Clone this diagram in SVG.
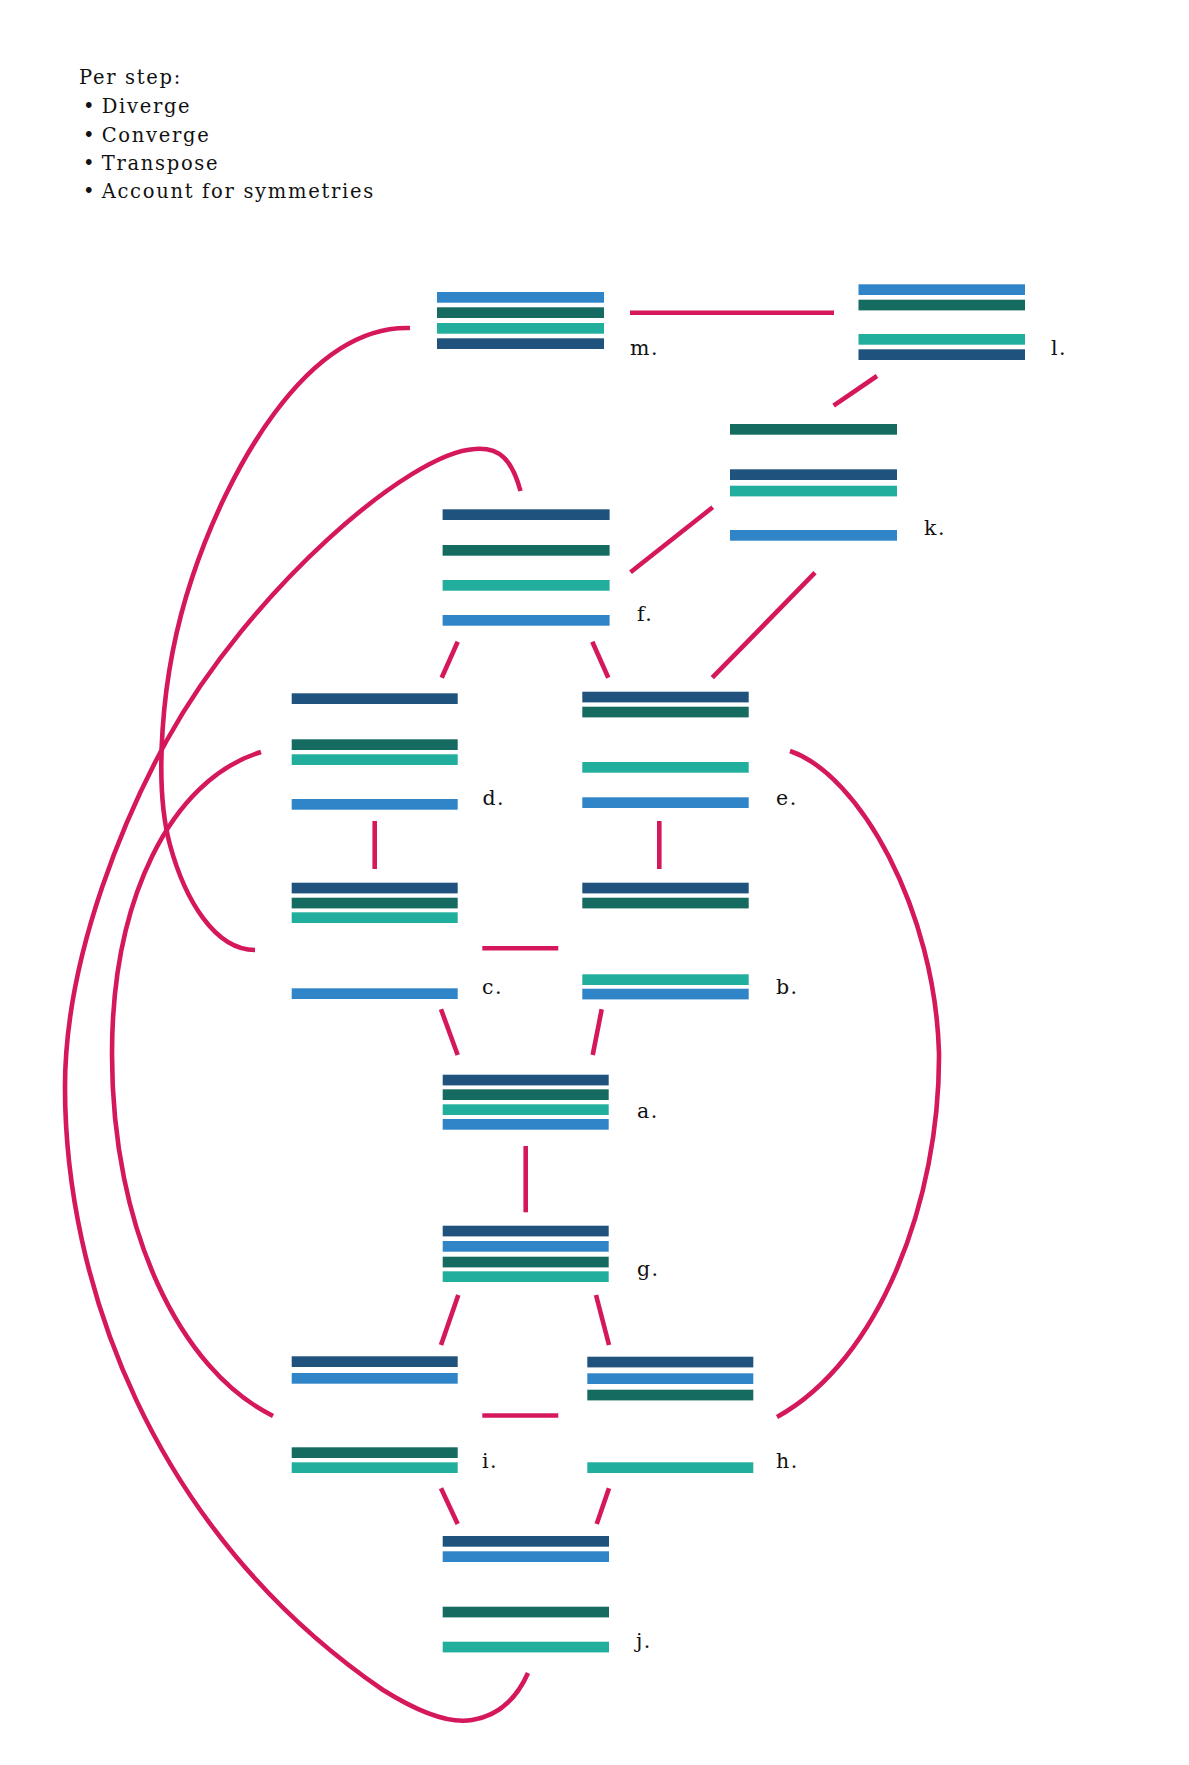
<svg xmlns="http://www.w3.org/2000/svg" width="1189" height="1765" viewBox="0 0 1189 1765">
<style>
  .nv{fill:#1F537D}
  .dg{fill:#156B5F}
  .tl{fill:#21AE9C}
  .bl{fill:#3085C8}
  .lbl{font-family:"DejaVu Serif","Liberation Serif",serif;font-size:20.5px;letter-spacing:1.5px;fill:#111}
  .hdr{font-family:"DejaVu Serif","Liberation Serif",serif;font-size:19.5px;letter-spacing:1.7px;fill:#111}
  .cn{stroke:#D5175C;stroke-width:4.6;fill:none}
</style>
<rect width="1189" height="1765" fill="#fff"/>
<g id="header">
  <text class="hdr" x="79" y="83.5">Per step:</text>
  <text class="hdr" x="83" y="113.3">•</text><text class="hdr" x="101.7" y="113.3">Diverge</text>
  <text class="hdr" x="83" y="141.7">•</text><text class="hdr" x="101.7" y="141.7">Converge</text>
  <text class="hdr" x="83" y="170">•</text><text class="hdr" x="101.7" y="170">Transpose</text>
  <text class="hdr" x="83" y="198.3">•</text><text class="hdr" x="101.7" y="198.3">Account for symmetries</text>
</g>
<g id="connectors">
  <line class="cn" x1="630" y1="312.7" x2="834" y2="312.7"/>
  <line class="cn" x1="877" y1="376" x2="833.6" y2="405.7"/>
  <line class="cn" x1="630.5" y1="572.3" x2="712.7" y2="507.3"/>
  <line class="cn" x1="815" y1="572.7" x2="712.3" y2="677.7"/>
  <line class="cn" x1="457.7" y1="641.7" x2="441.7" y2="677.7"/>
  <line class="cn" x1="592.3" y1="641.7" x2="608.3" y2="677.7"/>
  <line class="cn" x1="374.7" y1="821" x2="374.7" y2="869"/>
  <line class="cn" x1="659.3" y1="821" x2="659.3" y2="869"/>
  <line class="cn" x1="482.3" y1="948.3" x2="558.3" y2="948.3"/>
  <line class="cn" x1="441" y1="1009.3" x2="457.7" y2="1055"/>
  <line class="cn" x1="601.7" y1="1009.3" x2="592.7" y2="1055"/>
  <line class="cn" x1="525.7" y1="1146" x2="525.7" y2="1212.3"/>
  <line class="cn" x1="458.3" y1="1295" x2="441" y2="1345"/>
  <line class="cn" x1="596" y1="1295" x2="609" y2="1345"/>
  <line class="cn" x1="482.3" y1="1415.5" x2="558.3" y2="1415.5"/>
  <line class="cn" x1="441" y1="1488.3" x2="457.7" y2="1524"/>
  <line class="cn" x1="609" y1="1488.3" x2="596.7" y2="1524"/>
  <path class="cn" d="M410,328 C305,325 226,475 192,578 C158,680 155,790 170,845 C185,900 215,950 255,950"/>
  <path class="cn" d="M520.5,491 C512,460 500,447 475,449 C410,452 250,590 167,740 C130,807 65,950 65,1087 C65,1280 150,1530 383,1690 C428,1718 455,1723 472,1720 C497,1716 516,1700 528,1673"/>
  <path class="cn" d="M261,752 C170,780 112,900 112,1054 C112,1230 180,1370 273,1416"/>
  <path class="cn" d="M790,751 C860,775 935,910 939,1053 C940,1200 880,1360 777,1417"/>
</g>
<g id="node-m">
  <rect class="bl" x="437" y="292" width="167" height="10.7"/>
  <rect class="dg" x="437" y="307.3" width="167" height="10.7"/>
  <rect class="tl" x="437" y="323" width="167" height="10.7"/>
  <rect class="nv" x="437" y="338.3" width="167" height="10.7"/>
  <text class="lbl" x="630" y="355">m.</text>
</g>
<g id="node-l">
  <rect class="bl" x="858.5" y="284.3" width="166.5" height="10.7"/>
  <rect class="dg" x="858.5" y="299.7" width="166.5" height="10.7"/>
  <rect class="tl" x="858.5" y="334" width="166.5" height="10.7"/>
  <rect class="nv" x="858.5" y="349.3" width="166.5" height="10.7"/>
  <text class="lbl" x="1051" y="355">l.</text>
</g>
<g id="node-k">
  <rect class="dg" x="730" y="424" width="167" height="10.7"/>
  <rect class="nv" x="730" y="469.3" width="167" height="10.7"/>
  <rect class="tl" x="730" y="485.7" width="167" height="10.7"/>
  <rect class="bl" x="730" y="530" width="167" height="10.7"/>
  <text class="lbl" x="924" y="535">k.</text>
</g>
<g id="node-f">
  <rect class="nv" x="442.6" y="509.3" width="167" height="10.7"/>
  <rect class="dg" x="442.6" y="545" width="167" height="10.7"/>
  <rect class="tl" x="442.6" y="580" width="167" height="10.7"/>
  <rect class="bl" x="442.6" y="615" width="167" height="10.7"/>
  <text class="lbl" x="637" y="620.7">f.</text>
</g>
<g id="node-d">
  <rect class="nv" x="291.7" y="693.3" width="166" height="10.7"/>
  <rect class="dg" x="291.7" y="739.3" width="166" height="10.7"/>
  <rect class="tl" x="291.7" y="754.3" width="166" height="10.7"/>
  <rect class="bl" x="291.7" y="799" width="166" height="10.7"/>
  <text class="lbl" x="482.5" y="805">d.</text>
</g>
<g id="node-e">
  <rect class="nv" x="582.3" y="691.7" width="166.4" height="10.7"/>
  <rect class="dg" x="582.3" y="706.7" width="166.4" height="10.7"/>
  <rect class="tl" x="582.3" y="762" width="166.4" height="10.7"/>
  <rect class="bl" x="582.3" y="797.3" width="166.4" height="10.7"/>
  <text class="lbl" x="776" y="805">e.</text>
</g>
<g id="node-c">
  <rect class="nv" x="291.7" y="882.7" width="166" height="10.7"/>
  <rect class="dg" x="291.7" y="897.7" width="166" height="10.7"/>
  <rect class="tl" x="291.7" y="912.3" width="166" height="10.7"/>
  <rect class="bl" x="291.7" y="988.3" width="166" height="10.7"/>
  <text class="lbl" x="482" y="994">c.</text>
</g>
<g id="node-b">
  <rect class="nv" x="582.3" y="882.7" width="166.4" height="10.7"/>
  <rect class="dg" x="582.3" y="897.7" width="166.4" height="10.7"/>
  <rect class="tl" x="582.3" y="974.3" width="166.4" height="10.7"/>
  <rect class="bl" x="582.3" y="988.7" width="166.4" height="10.7"/>
  <text class="lbl" x="776" y="994">b.</text>
</g>
<g id="node-a">
  <rect class="nv" x="442.7" y="1074.7" width="166" height="10.7"/>
  <rect class="dg" x="442.7" y="1089.3" width="166" height="10.7"/>
  <rect class="tl" x="442.7" y="1104.3" width="166" height="10.7"/>
  <rect class="bl" x="442.7" y="1119" width="166" height="10.7"/>
  <text class="lbl" x="637" y="1118.3">a.</text>
</g>
<g id="node-g">
  <rect class="nv" x="442.7" y="1225.7" width="166" height="10.7"/>
  <rect class="bl" x="442.7" y="1241" width="166" height="10.7"/>
  <rect class="dg" x="442.7" y="1256.7" width="166" height="10.7"/>
  <rect class="tl" x="442.7" y="1271.3" width="166" height="10.7"/>
  <text class="lbl" x="637" y="1276">g.</text>
</g>
<g id="node-i">
  <rect class="nv" x="291.7" y="1356.3" width="166" height="10.7"/>
  <rect class="bl" x="291.7" y="1373" width="166" height="10.7"/>
  <rect class="dg" x="291.7" y="1447.3" width="166" height="10.7"/>
  <rect class="tl" x="291.7" y="1462.3" width="166" height="10.7"/>
  <text class="lbl" x="482" y="1468.3">i.</text>
</g>
<g id="node-h">
  <rect class="nv" x="587.3" y="1356.7" width="166" height="10.7"/>
  <rect class="bl" x="587.3" y="1373.3" width="166" height="10.7"/>
  <rect class="dg" x="587.3" y="1389.7" width="166" height="10.7"/>
  <rect class="tl" x="587.3" y="1462.3" width="166" height="10.7"/>
  <text class="lbl" x="776" y="1468.3">h.</text>
</g>
<g id="node-j">
  <rect class="nv" x="442.7" y="1536" width="166.3" height="10.7"/>
  <rect class="bl" x="442.7" y="1551.3" width="166.3" height="10.7"/>
  <rect class="dg" x="442.7" y="1606.7" width="166.3" height="10.7"/>
  <rect class="tl" x="442.7" y="1641.7" width="166.3" height="10.7"/>
  <text class="lbl" x="636" y="1648.3">j.</text>
</g>
</svg>
